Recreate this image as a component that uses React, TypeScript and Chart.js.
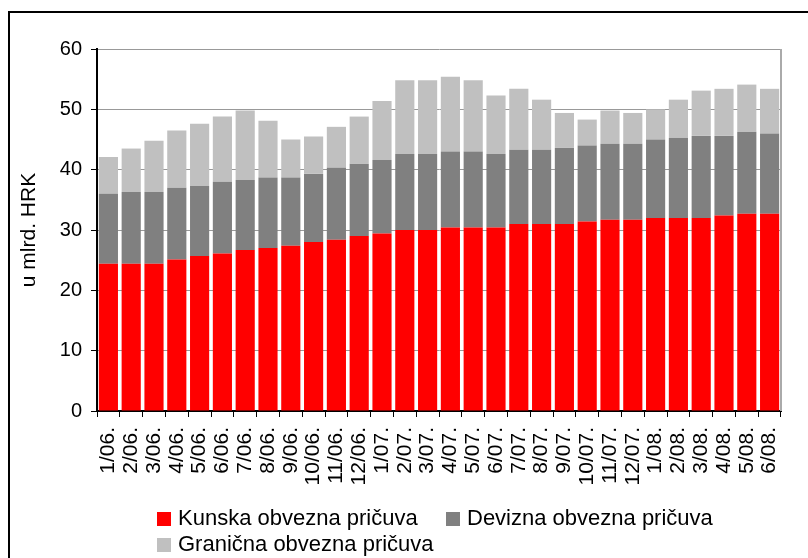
import React, { useEffect, useRef } from 'react';
import { Chart, registerables } from 'chart.js';

Chart.register(...registerables);

const categories = [
  '1/06.', '2/06.', '3/06.', '4/06.', '5/06.', '6/06.', '7/06.', '8/06.', '9/06.', '10/06.', '11/06.', '12/06.',
  '1/07.', '2/07.', '3/07.', '4/07.', '5/07.', '6/07.', '7/07.', '8/07.', '9/07.', '10/07.', '11/07.', '12/07.',
  '1/08.', '2/08.', '3/08.', '4/08.', '5/08.', '6/08.',
];

const kunska = [
  24.4, 24.4, 24.4, 25.1, 25.7, 26.1, 26.7, 27.0, 27.4, 28.0, 28.4, 29.0,
  29.4, 30.0, 30.0, 30.4, 30.4, 30.4, 31.0, 31.0, 31.0, 31.4, 31.7, 31.7,
  32.0, 32.0, 32.0, 32.4, 32.7, 32.7,
];

const devizna = [
  11.6, 11.9, 11.9, 11.9, 11.6, 11.9, 11.6, 11.7, 11.3, 11.3, 11.9, 12.0,
  12.2, 12.6, 12.6, 12.6, 12.6, 12.2, 12.3, 12.3, 12.6, 12.6, 12.6, 12.6,
  13.0, 13.3, 13.6, 13.2, 13.6, 13.3,
];

const granicna = [
  6.1, 7.2, 8.5, 9.5, 10.3, 10.8, 11.5, 9.4, 6.3, 6.2, 6.8, 7.8,
  9.8, 12.2, 12.2, 12.4, 11.8, 9.7, 10.1, 8.3, 5.8, 4.3, 5.5, 5.1,
  5.0, 6.3, 7.5, 7.8, 7.8, 7.4,
];

const seriesNames = ['Kunska obvezna pričuva', 'Devizna obvezna pričuva', 'Granična obvezna pričuva'];
const seriesColors = ['#FF0000', '#808080', '#C0C0C0'];
const yTitle = 'u mlrd. HRK';

const FONT = '"Liberation Sans", Arial, sans-serif';

const framePlugin = {
  id: 'frame',
  afterDatasetsDraw(chart: any) {
    const { ctx, chartArea: a } = chart;
    ctx.save();
    ctx.strokeStyle = '#aaaaaa';
    ctx.lineWidth = 2;
    ctx.beginPath();
    ctx.moveTo(a.right, a.top);
    ctx.lineTo(a.right, a.bottom);
    ctx.stroke();
    ctx.restore();
  },
};

const legendPlugin = {
  id: 'customLegend',
  afterDraw(chart: any) {
    const { ctx } = chart;
    const spots = [
      { x: 157, y: 519 },
      { x: 446, y: 519 },
      { x: 157, y: 545 },
    ];
    ctx.save();
    ctx.font = `22px ${FONT}`;
    ctx.textBaseline = 'middle';
    ctx.textAlign = 'left';
    chart.data.datasets.forEach((ds: any, i: number) => {
      const s = spots[i];
      ctx.fillStyle = ds.backgroundColor;
      ctx.fillRect(s.x, s.y - 7, 14, 14);
      ctx.fillStyle = '#000';
      ctx.fillText(ds.label, s.x + 21, s.y);
    });
    ctx.restore();
  },
};

export default function App() {
  const ref = useRef<HTMLCanvasElement>(null);

  useEffect(() => {
    Chart.defaults.font.family = FONT;
    const chart = new Chart(ref.current!, {
      type: 'bar',
      data: {
        labels: categories,
        datasets: [kunska, devizna, granicna].map((d, i) => ({
          label: seriesNames[i],
          data: d,
          backgroundColor: seriesColors[i],
          borderWidth: 0,
          categoryPercentage: 1,
          barPercentage: 0.84,
        })),
      },
      options: {
        responsive: false,
        animation: false,
        layout: { padding: { top: 49, right: 27, left: 0, bottom: 0 } },
        plugins: {
          legend: { display: false },
          tooltip: { enabled: false },
        },
        scales: {
          x: {
            stacked: true,
            grid: {
              offset: true,
              drawOnChartArea: false,
              drawTicks: true,
              tickLength: 6,
              color: '#000',
              lineWidth: 1,
            },
            border: { color: '#000', width: 2 },
            ticks: {
              autoSkip: false,
              maxRotation: 90,
              minRotation: 90,
              padding: 10,
              color: '#000',
              font: { size: 21, family: FONT },
            },
            afterFit: (s: any) => {
              s.height = 147;
            },
          },
          y: {
            stacked: true,
            min: 0,
            max: 60,
            ticks: {
              stepSize: 10,
              padding: 9,
              color: '#000',
              font: { size: 20, family: FONT },
            },
            grid: {
              color: '#999999',
              tickColor: '#000',
              tickLength: 6,
              lineWidth: 1,
            },
            border: { color: '#000', width: 2 },
            title: {
              display: true,
              text: yTitle,
              color: '#000',
              font: { size: 21, family: FONT },
              padding: { top: 17, bottom: 0 },
            },
            afterFit: (s: any) => {
              s.width = 97;
            },
          },
        },
      },
      plugins: [framePlugin, legendPlugin],
    } as any);
    return () => chart.destroy();
  }, []);

  return (
    <div
      style={{
        position: 'fixed',
        left: 0,
        top: 0,
        width: 808,
        height: 558,
        overflow: 'hidden',
        background: '#fff',
      }}
    >
      <div
        style={{
          position: 'absolute',
          left: 8,
          top: 11,
          width: 900,
          height: 700,
          borderTop: '2px solid #000',
          borderLeft: '2px solid #000',
        }}
      />
      <canvas
        ref={ref}
        width={808}
        height={558}
        style={{ position: 'absolute', left: 0, top: 0, width: 808, height: 558 }}
      />
    </div>
  );
}
